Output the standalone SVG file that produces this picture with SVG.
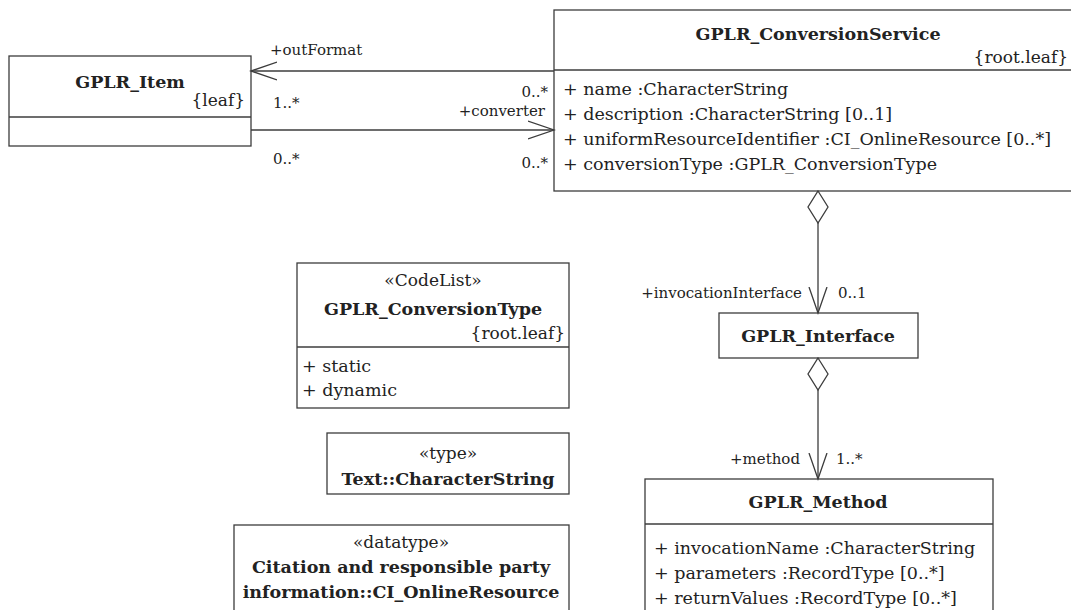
<svg xmlns="http://www.w3.org/2000/svg" width="1071" height="610" viewBox="0 0 1071 610">
<style>
.box{fill:#fff;stroke:#3c3c3c;stroke-width:1.3}
.ln{fill:none;stroke:#3c3c3c;stroke-width:1.3}
text{font-family:"DejaVu Serif","Liberation Serif",serif;fill:#222}
.t{font-size:17.5px;font-weight:bold;text-anchor:middle}
.a{font-size:17.5px}
.s{font-size:17px;text-anchor:middle}
.r{font-size:17px;text-anchor:end}
.l{font-size:15px}
.le{font-size:15px;text-anchor:end}
</style>
<defs>
<marker id="open" markerWidth="30" markerHeight="24" refX="26" refY="12" orient="auto" markerUnits="userSpaceOnUse">
<path d="M0,3 L26,12 L0,21" fill="none" stroke="#3c3c3c" stroke-width="1.3"/>
</marker>
<marker id="dia" markerWidth="36" markerHeight="24" refX="1" refY="11" orient="auto" markerUnits="userSpaceOnUse">
<path d="M1,11 L17,1 L33,11 L17,21 Z" fill="#fff" stroke="#3c3c3c" stroke-width="1.3"/>
</marker>
</defs>

<g id="GPLR_Item">
<rect class="box" x="9" y="56" width="242" height="90"/>
<line class="ln" x1="9" y1="117" x2="251" y2="117"/>
<text class="t" x="130" y="88">GPLR_Item</text>
<text class="r" x="245" y="106">{leaf}</text>
</g>

<g id="GPLR_ConversionService">
<rect class="box" x="554" y="10" width="530" height="181"/>
<line class="ln" x1="554" y1="70" x2="1084" y2="70"/>
<text class="t" x="818" y="40">GPLR_ConversionService</text>
<text class="r" x="1068" y="63">{root.leaf}</text>
<text class="a" x="563" y="95">+  name :CharacterString</text>
<text class="a" x="563" y="120">+  description :CharacterString [0..1]</text>
<text class="a" x="563" y="145">+  uniformResourceIdentifier :CI_OnlineResource [0..*]</text>
<text class="a" x="563" y="170">+  conversionType :GPLR_ConversionType</text>
</g>

<g id="GPLR_ConversionType">
<rect class="box" x="297" y="263" width="272" height="145"/>
<line class="ln" x1="297" y1="347" x2="569" y2="347"/>
<text class="s" x="433" y="286">«CodeList»</text>
<text class="t" x="433" y="315">GPLR_ConversionType</text>
<text class="r" x="565" y="339">{root.leaf}</text>
<text class="a" x="302" y="372">+  static</text>
<text class="a" x="302" y="396">+  dynamic</text>
</g>

<g id="CharacterString">
<rect class="box" x="327" y="433" width="242" height="61"/>
<text class="s" x="448" y="459">«type»</text>
<text class="t" x="448" y="485">Text::CharacterString</text>
</g>

<g id="CI_OnlineResource">
<rect class="box" x="234" y="525" width="335" height="100"/>
<text class="s" x="401" y="548">«datatype»</text>
<text class="t" x="401" y="573">Citation and responsible party</text>
<text class="t" x="401" y="598">information::CI_OnlineResource</text>
</g>

<g id="GPLR_Interface">
<rect class="box" x="719" y="313" width="199" height="45"/>
<text class="t" x="818" y="342">GPLR_Interface</text>
</g>

<g id="GPLR_Method">
<rect class="box" x="645" y="479" width="348" height="150"/>
<line class="ln" x1="645" y1="524" x2="993" y2="524"/>
<text class="t" x="818" y="508">GPLR_Method</text>
<text class="a" x="654" y="554">+  invocationName :CharacterString</text>
<text class="a" x="654" y="579">+  parameters :RecordType [0..*]</text>
<text class="a" x="654" y="604">+  returnValues :RecordType [0..*]</text>
</g>

<g id="connectors">
<line class="ln" x1="554" y1="71" x2="251" y2="71" marker-end="url(#open)"/>
<text class="l" x="270" y="55">+outFormat</text>
<text class="le" x="548" y="97">0..*</text>
<text class="l" x="273" y="108">1..*</text>

<line class="ln" x1="251" y1="130" x2="554" y2="130" marker-end="url(#open)"/>
<text class="le" x="545" y="116">+converter</text>
<text class="l" x="273" y="164">0..*</text>
<text class="le" x="548" y="168">0..*</text>

<line class="ln" x1="818" y1="191" x2="818" y2="313" marker-start="url(#dia)" marker-end="url(#open)"/>
<text class="le" x="802" y="298">+invocationInterface</text>
<text class="l" x="838" y="298">0..1</text>

<line class="ln" x1="818" y1="358" x2="818" y2="479" marker-start="url(#dia)" marker-end="url(#open)"/>
<text class="le" x="800" y="464">+method</text>
<text class="l" x="836" y="464">1..*</text>
</g>
</svg>
